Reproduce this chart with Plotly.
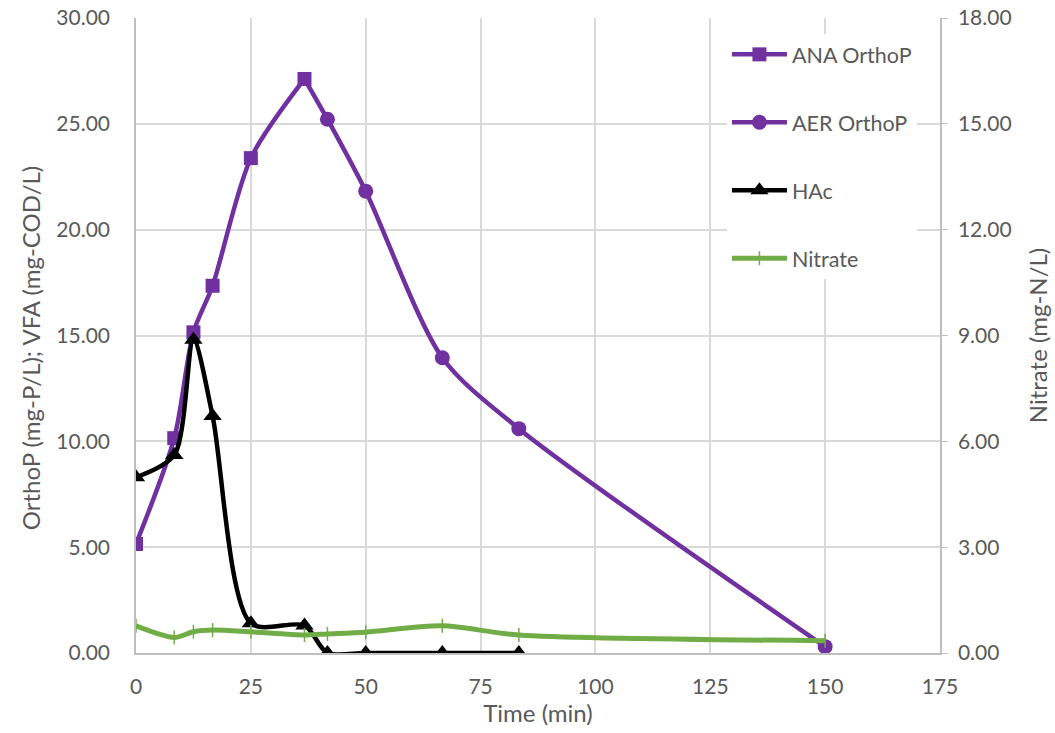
import plotly.graph_objects as go

# Data
t_ana = [0, 8.33, 12.5, 16.67, 25, 36.67]
ana_orthop = [5.15, 10.15, 15.15, 17.35, 23.38, 27.12]

t_aer = [41.67, 50, 66.67, 83.33, 150]
aer_orthop = [25.22, 21.82, 13.95, 10.6, 0.3]

# link between the last ANA point and the first AER point
t_link = [36.67, 41.67]
link_orthop = [27.12, 25.22]

t_hac = [0, 8.33, 12.5, 16.67, 25, 36.67, 41.67, 50, 66.67, 83.33]
hac = [8.3, 9.35, 14.8, 11.2, 1.4, 1.3, 0.0, 0.0, 0.0, 0.0]

t_no3 = [0, 8.33, 12.5, 16.67, 25, 36.67, 41.67, 50, 66.67, 83.33, 150]
nitrate = [0.77, 0.44, 0.6, 0.65, 0.6, 0.51, 0.54, 0.59, 0.77, 0.51, 0.35]

x_ticks = [0, 25, 50, 75, 100, 125, 150, 175]

PURPLE = "#7030A0"
GREEN = "#70AD47"
FONT = "Lato"
GREY = "#595959"

fig = go.Figure()

fig.add_trace(go.Scatter(
    x=t_link, y=link_orthop, mode="lines", showlegend=False, hoverinfo="skip",
    line=dict(color=PURPLE, width=4.5)))

fig.add_trace(go.Scatter(
    x=t_ana, y=ana_orthop, name="ANA OrthoP", mode="lines+markers",
    line=dict(color=PURPLE, width=4.5, shape="spline", smoothing=0.8),
    marker=dict(symbol="square", size=14, color=PURPLE, opacity=1),
    legendgroup="a"))

fig.add_trace(go.Scatter(
    x=t_aer, y=aer_orthop, name="AER OrthoP", mode="lines+markers",
    line=dict(color=PURPLE, width=4.5, shape="spline", smoothing=0.8),
    marker=dict(symbol="circle", size=15, color=PURPLE, opacity=1),
    legendgroup="b"))

fig.add_trace(go.Scatter(
    x=t_hac, y=hac, name="HAc", mode="lines+markers",
    line=dict(color="black", width=4.5, shape="spline", smoothing=0.8),
    marker=dict(symbol="triangle-up", size=16, color="black"),
    legendgroup="c"))

fig.add_trace(go.Scatter(
    x=t_no3, y=nitrate, name="Nitrate", mode="lines+markers", yaxis="y2",
    line=dict(color=GREEN, width=5, shape="spline", smoothing=0.8),
    marker=dict(symbol="line-ns", size=10, color=GREEN, line=dict(color=GREEN, width=1.5)),
    legendgroup="d"))

fig.update_layout(
    width=1055, height=733,
    paper_bgcolor="white", plot_bgcolor="white",
    margin=dict(l=136, r=115, t=18, b=80),
    font=dict(family=FONT, size=19, color=GREY),
    showlegend=True,
    legend=dict(x=0.735, y=0.975, xanchor="left", yanchor="top",
                bgcolor="white", font=dict(family=FONT, size=21.5, color=GREY),
                tracegroupgap=37, itemwidth=55, traceorder="grouped"),
    xaxis=dict(range=[0, 175], tickvals=x_ticks, showgrid=True, gridcolor="#d9d9d9",
               gridwidth=1.5, showline=True, linecolor="#bfbfbf", linewidth=1.5,
               zeroline=False, ticks="", tickfont=dict(size=21), automargin=False,
               ticklabelstandoff=14, ticklabeloverflow="allow",
               title=dict(text="Time (min)", font=dict(size=24), standoff=4)),
    yaxis=dict(range=[0, 30], dtick=5, tickformat=".2f", showgrid=True,
               gridcolor="#d9d9d9", gridwidth=1.5, showline=True, linecolor="#bfbfbf",
               linewidth=1.5, zeroline=False, ticks="", tickfont=dict(size=21),
               automargin=False, ticklabelstandoff=20, ticklabeloverflow="allow"),
    yaxis2=dict(range=[0, 18], dtick=3, tickformat=".2f", overlaying="y", side="right",
                showgrid=False, showline=True, linecolor="#bfbfbf", linewidth=1.5,
                zeroline=False, ticks="outside", ticklen=6, tickcolor="#bfbfbf",
                tickfont=dict(size=21), automargin=False, ticklabelstandoff=6,
                ticklabeloverflow="allow",
                title=dict(text="Nitrate (mg-N/L)", font=dict(size=24), standoff=20)),
    annotations=[dict(text="OrthoP (mg-P/L); VFA (mg-COD/L)", textangle=-90,
                      xref="paper", yref="paper", x=-0.1318, y=0.48,
                      xanchor="center", yanchor="middle", showarrow=False,
                      font=dict(family=FONT, size=24, color=GREY))],
)

fig.write_html("out.html", config={"displayModeBar": False},
               post_script="document.body.style.margin='0px';")
